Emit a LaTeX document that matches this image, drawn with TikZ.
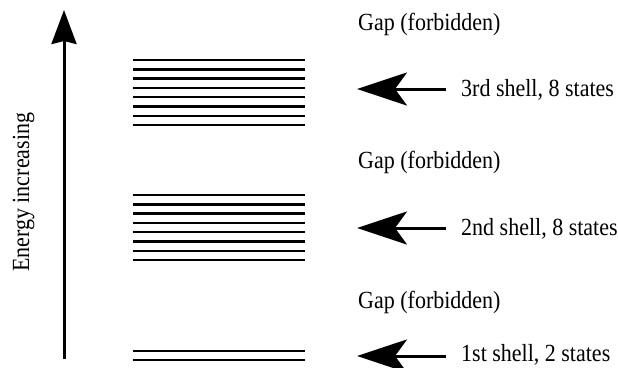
\documentclass[tikz,border=0pt]{standalone}
\usepackage{fontspec}
\setmainfont{Liberation Serif}
\usetikzlibrary{arrows.meta}
\newcommand{\tallt}[1]{\scalebox{1}[1.12]{#1}}
\begin{document}
\begin{tikzpicture}[x=1bp,y=-1bp,
  level/.style={line width=2.4bp},
  lbl/.style={anchor=base west,inner sep=0pt,font=\fontsize{22bp}{26bp}\selectfont},
  shellarrow/.style={line width=3bp,-{Stealth[length=50bp,width=33bp,inset=12bp]}},
  energyarrow/.style={line width=3bp,-{Stealth[length=34bp,width=25bp,inset=3bp]}},
]
\useasboundingbox (0,0) rectangle (618,367);
% energy axis
\coordinate (ebot) at (64,359);
\coordinate (etop) at (64,10);
\draw[energyarrow] (ebot) -- (etop);
\node[lbl,rotate=90] (elabel) at (29,272) {\tallt{Energy increasing}};
% levels
\foreach \k in {0,...,7}{
  \draw[level] (133,{60+9.3*\k}) -- (305,{60+9.3*\k});
  \draw[level] (133,{195+9.3*\k}) -- (305,{195+9.3*\k});
}
\draw[level] (133,351) -- (305,351);
\draw[level] (133,360) -- (305,360);
% arrows
\coordinate (s3) at (446,89);  \coordinate (t3) at (357,89);
\coordinate (s2) at (446,228); \coordinate (t2) at (357,228);
\coordinate (s1) at (446,356); \coordinate (t1) at (357,356);
\draw[shellarrow] (s3) -- (t3);
\draw[shellarrow] (s2) -- (t2);
\draw[shellarrow] (s1) -- (t1);
% labels
\node[lbl] (l3) at (461,96.5) {\tallt{3rd shell, 8 states}};
\node[lbl] (l2) at (461,235) {\tallt{2nd shell, 8 states}};
\node[lbl] (l1) at (461,361) {\tallt{1st shell, 2 states}};
\node[lbl] (g3) at (358,30) {\tallt{Gap (forbidden)}};
\node[lbl] (g2) at (358,168) {\tallt{Gap (forbidden)}};
\node[lbl] (g1) at (358,308) {\tallt{Gap (forbidden)}};
\end{tikzpicture}
\end{document}
